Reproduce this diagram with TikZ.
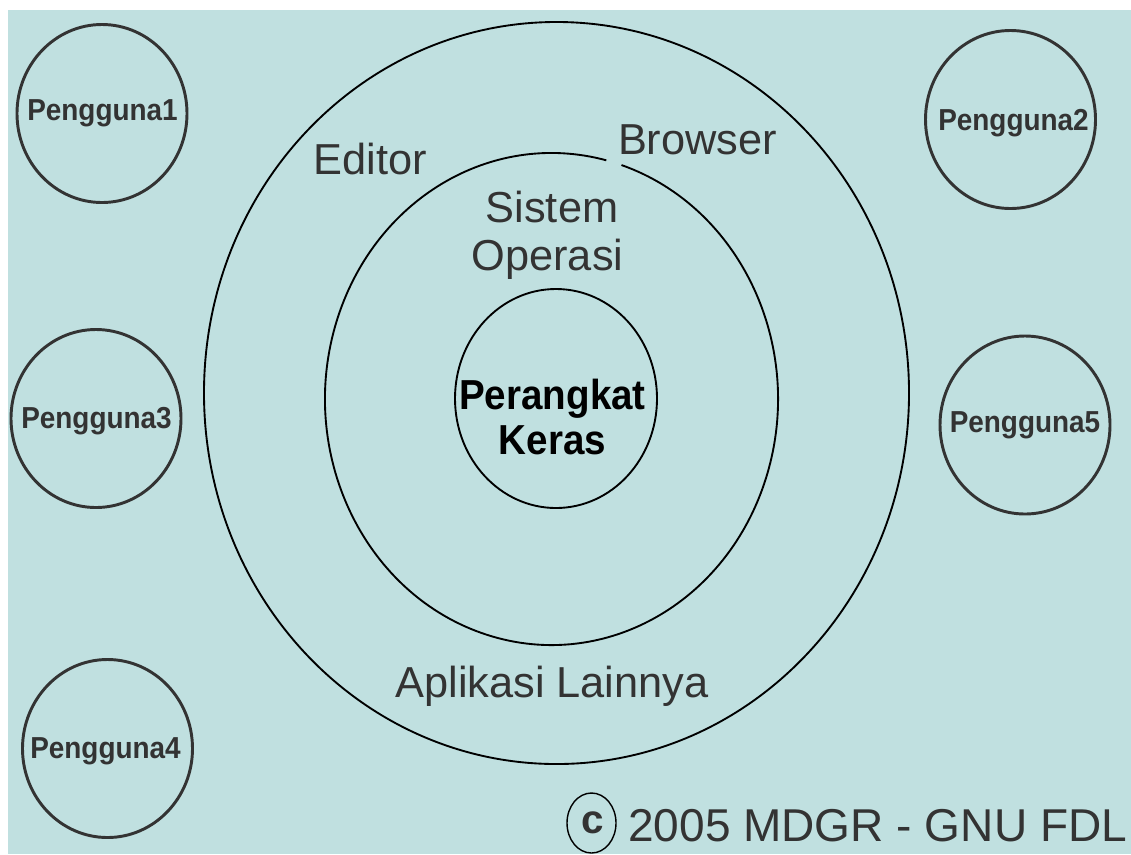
\documentclass[tikz,border=0pt]{standalone}
\usepackage{fontspec}
\setmainfont{Liberation Sans}
\newfontfamily\narrowsans[FakeStretch=0.92]{Liberation Sans}
\usetikzlibrary{shapes.geometric}
\definecolor{panel}{HTML}{C0E0E0}
\definecolor{ink}{HTML}{333333}

\begin{document}
\begin{tikzpicture}[x=0.03cm, y=-0.03cm]
    \tikzstyle{user} = [ellipse, draw=ink, line width=2.5pt, inner sep=0pt,
        minimum width=5.1cm, minimum height=5.34cm]
    \tikzstyle{usertext} = [text=ink, inner sep=0pt, anchor=base,
        font=\narrowsans\bfseries\fontsize{25.9}{30}\selectfont]
    \tikzstyle{ring} = [draw=black, line width=1.6pt]
    \tikzstyle{layer} = [text=ink, inner sep=0pt, anchor=base,
        font=\fontsize{37}{44}\selectfont]
    \tikzstyle{hwtext} = [text=black, inner sep=0pt, anchor=base,
        font=\narrowsans\bfseries\fontsize{35.8}{40}\selectfont]

    \useasboundingbox (0,0) rectangle (1131,854);
    \fill[white] (0,0) rectangle (1131,854);
    \fill[panel] (8,10) rectangle (1131,854);

    % the three layers
    \node(apps) [ring, ellipse, inner sep=0pt, minimum width=21.15cm,
        minimum height=22.26cm]
        at (556.5,393) {};
    \coordinate (oscenter) at (551.5,399);
    \draw[ring] (oscenter) ++(-72:226.5 and 246)
        arc [start angle=-72, end angle=284, x radius=226.5, y radius=246];
    \node(hw) [ring, ellipse, inner sep=0pt, minimum width=6.06cm,
        minimum height=6.57cm]
        at (556,398.5) {};

    \node(editor) [layer] at (370,174) {Editor};
    \node(browser) [layer] at (697.5,154) {Browser};
    \node(sistem) [layer] at (552,222) {Sistem};
    \node(operasi) [layer] at (547.5,270) {Operasi};
    \node(aplikasi) [layer] at (552,697) {Aplikasi Lainnya};
    \node(perangkat) [hwtext] at (552.5,409) {Perangkat};
    \node(keras) [hwtext] at (552.5,454) {Keras};

    % users round the layers
    \node(user1) [user] at (102,113.5) {};
    \node(user1text) [usertext] at (102.5,120) {Pengguna1};
    \node(user2) [user] at (1010.5,119.5) {};
    \node(user2text) [usertext] at (1013.5,130) {Pengguna2};
    \node(user3) [user] at (96,418.5) {};
    \node(user3text) [usertext] at (96.5,428) {Pengguna3};
    \node(user4) [user] at (107.5,748.5) {};
    \node(user4text) [usertext] at (105.5,758) {Pengguna4};
    \node(user5) [user] at (1025,425) {};
    \node(user5text) [usertext] at (1025,432) {Pengguna5};

    % copyright line
    \node(copymark) [ellipse, draw=black, line width=1.2pt, inner sep=0pt,
        minimum width=1.47cm, minimum height=1.8cm]
        at (591.5,823) {};
    \node(copyc) [text=ink, inner sep=0pt,
        font=\bfseries\fontsize{34.5}{36}\selectfont]
        at (593,822.5) {c};
    \node(notice) [text=ink, inner sep=0pt, anchor=base west,
        font=\fontsize{39.3}{44}\selectfont]
        at (628,841) {2005 MDGR - GNU FDL};
\end{tikzpicture}
\end{document}
